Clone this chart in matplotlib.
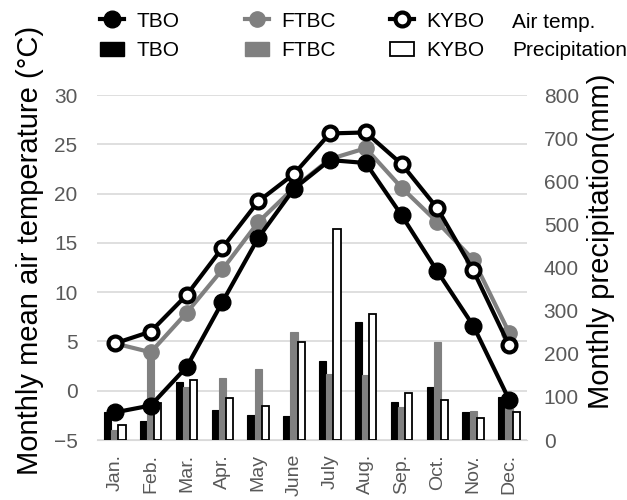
import numpy as np
import matplotlib
matplotlib.use("Agg")
import matplotlib.pyplot as plt
from matplotlib.lines import Line2D
from matplotlib.patches import Patch

plt.rcParams['font.family'] = ['Liberation Sans', 'DejaVu Sans']

# monthly data for the three sites
months = ['Jan.', 'Feb.', 'Mar.', 'Apr.', 'May', 'June',
          'July', 'Aug.', 'Sep.', 'Oct.', 'Nov.', 'Dec.']

temp_tbo = [-2.2, -1.5, 2.4, 9.0, 15.5, 20.5, 23.4, 23.1, 17.8, 12.1, 6.6, -0.9]
temp_ftbc = [4.8, 3.9, 7.9, 12.3, 17.1, 20.6, 23.5, 24.6, 20.6, 17.1, 13.3, 5.9]
temp_kybo = [4.8, 6.0, 9.7, 14.5, 19.2, 22.0, 26.1, 26.2, 23.0, 18.5, 12.2, 4.6]

prec_tbo = [65, 45, 135, 70, 58, 56, 183, 274, 88, 123, 65, 100]
prec_ftbc = [23, 204, 124, 144, 165, 251, 153, 151, 77, 227, 67, 74]
prec_kybo = [35, 85, 139, 97, 79, 228, 490, 292, 109, 93, 51, 65]

tick_col = '#595959'
grey = '#808080'

fig = plt.figure(figsize=(6.27, 5.0), dpi=100)
ax = fig.add_axes([0.1547, 0.12, 0.6858, 0.69])
ax2 = ax.twinx()   # precipitation bars
ax3 = ax.twinx()   # temperature lines, drawn on top of the bars

x = np.arange(len(months))
w = 0.2

# grid + left axis
ax.set_ylim(-5, 30)
ax.set_yticks(np.arange(-5, 31, 5))
ax.set_xlim(-0.5, 11.5)
ax.grid(axis='y', color='#d9d9d9', lw=1.2)
ax.set_axisbelow(True)
ax.set_xticks(x)
ax.set_xticklabels(months, rotation=90, color=tick_col, fontsize=14)
ax.tick_params(axis='y', colors=tick_col, labelsize=15, length=0, pad=14)
ax.tick_params(axis='x', length=0, pad=10)
ax.set_ylabel('Monthly mean air temperature (°C)', fontsize=21)
ax.yaxis.set_label_coords(-0.123, 0.55)

# bars on the right axis
ax2.bar(x - w, prec_tbo, w, color='black', edgecolor='black', lw=0.8)
ax2.bar(x, prec_ftbc, w, color=grey, edgecolor=grey, lw=0.8)
ax2.bar(x + w, prec_kybo, w, color='white', edgecolor='black', lw=1.3)
ax2.set_ylim(0, 800)
ax2.set_yticks(np.arange(0, 801, 100))
ax2.tick_params(axis='y', colors=tick_col, labelsize=15, length=0, pad=12)
ax2.set_ylabel('Monthly precipitation(mm)', fontsize=21)
ax2.yaxis.set_label_coords(1.14, 0.575)

# temperature lines
ax3.set_ylim(-5, 30)
ax3.set_yticks([])
ax3.plot(x, temp_ftbc, color=grey, lw=3, marker='o', ms=11,
         mfc=grey, mec=grey, zorder=3)
ax3.plot(x, temp_tbo, color='black', lw=3, marker='o', ms=12,
         mfc='black', mec='black', zorder=4)
ax3.plot(x, temp_kybo, color='black', lw=3, marker='o', ms=10,
         mfc='white', mec='black', mew=3, zorder=5)

for a in (ax, ax2, ax3):
    for s in a.spines.values():
        s.set_visible(False)
ax.spines['bottom'].set_visible(True)
ax.spines['bottom'].set_color('#d9d9d9')

# legend: one small legend per site, top row air temperature, bottom row precipitation
sites = [
    ('TBO', dict(color='black', mfc='black', mec='black', ms=12),
     dict(facecolor='black', edgecolor='black'), 100),
    ('FTBC', dict(color=grey, mfc=grey, mec=grey, ms=11),
     dict(facecolor=grey, edgecolor=grey), 245),
    ('KYBO', dict(color='black', mfc='white', mec='black', ms=10, mew=3),
     dict(facecolor='white', edgecolor='black', lw=1.3), 390),
]
for name, lkw, pkw, xpix in sites:
    h = [Line2D([], [], lw=3, marker='o', **lkw), Patch(**pkw)]
    leg = fig.legend(h, [name, name], loc='center left',
                     bbox_to_anchor=(xpix / 627, 1 - 36 / 500),
                     frameon=False, fontsize=15, handlelength=1.15,
                     handletextpad=0.6, labelspacing=0.5,
                     borderpad=0, borderaxespad=0)
fig.text(512 / 627, 1 - 22 / 500, 'Air temp.', fontsize=15, va='center', ha='left')
fig.text(512 / 627, 1 - 50 / 500, 'Precipitation', fontsize=15, va='center', ha='left')

fig.savefig('out.png', dpi=100)
